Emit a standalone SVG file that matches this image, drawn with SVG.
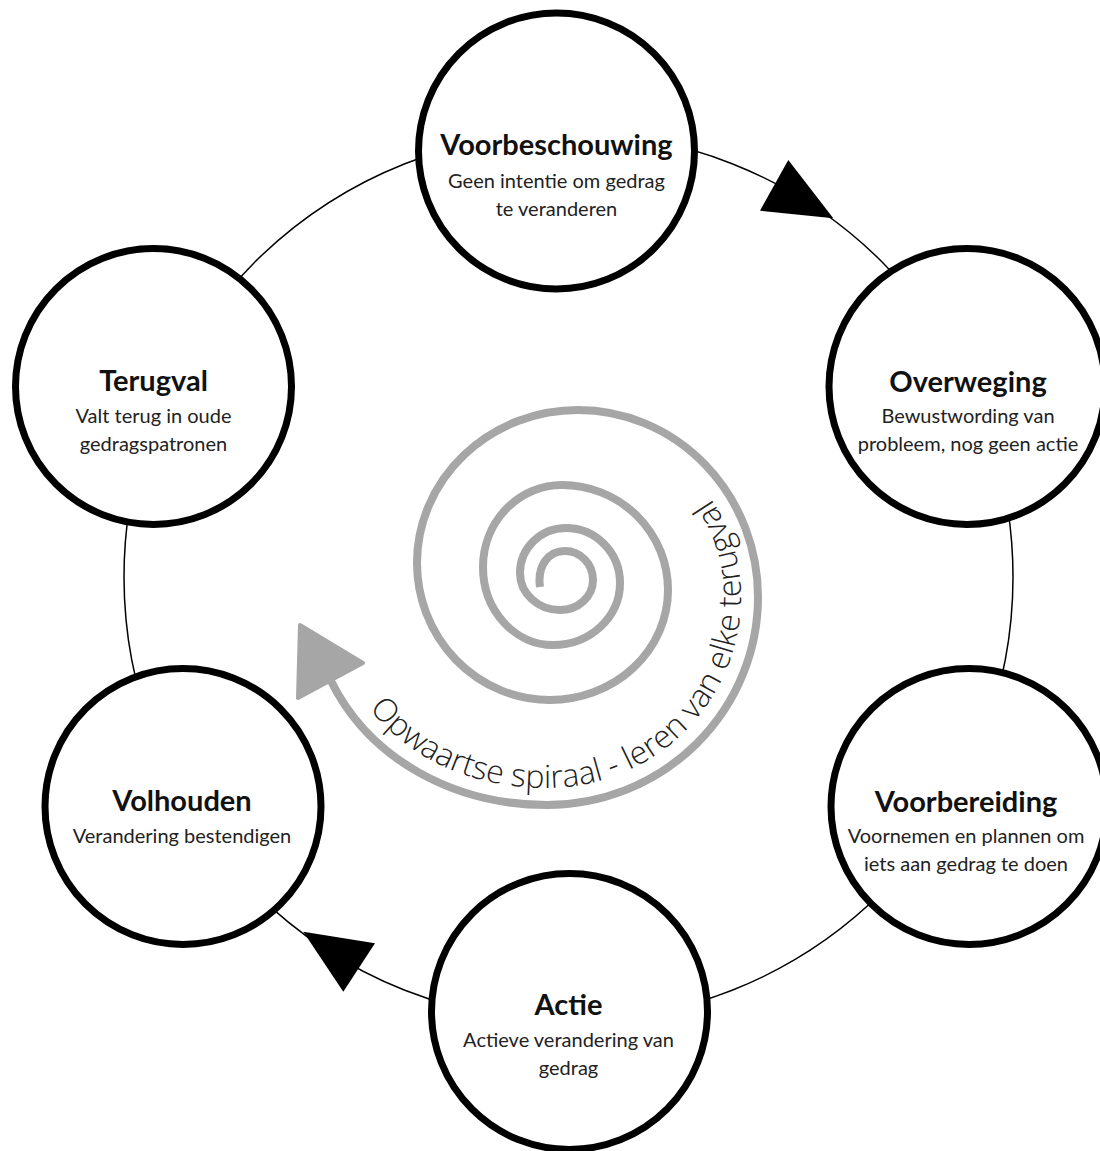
<svg xmlns="http://www.w3.org/2000/svg" xmlns:xlink="http://www.w3.org/1999/xlink" width="1100" height="1151" viewBox="0 0 1100 1151">
<style>
.ring{fill:none;stroke:#000;stroke-width:1.5}
.node{fill:#fff;stroke:#000;stroke-width:7}
.title{font-family:Lato,"Noto Sans",sans-serif;font-weight:bold;font-size:29px;fill:#111;text-anchor:middle}
.sub{font-family:Lato,"Noto Sans",sans-serif;font-size:20px;fill:#222;text-anchor:middle}
.arrow{fill:#000;stroke:none}
.spiral{fill:none;stroke:#a6a6a6;stroke-width:8}
.spiralhead{fill:#a6a6a6;stroke:#a6a6a6;stroke-width:4;stroke-linejoin:round}
.curved{font-family:"Open Sans","Noto Sans",sans-serif;font-weight:300;font-size:32px;fill:#222}
</style>
<defs>
<path id="textArc" d="M347,673 C384,748 460,788 547,788 A194 191 0 0 0 741,597 A163 170 0 0 0 578,427"/>
</defs>
<rect width="1100" height="1151" fill="#fff"/>
<g id="connectors">
<circle class="ring" cx="568.5" cy="577" r="444.5"/>
<polygon class="arrow" points="788.3,160 760,210.7 833.3,218.3"/>
<polygon class="arrow" points="303.3,931.7 375,943.3 343.3,991.7"/>
</g>
<g id="spiral">
<path class="spiral" d="M540,587 C537,566 548,551 565,551 A28 29 0 0 1 593,580 A33 30 0 0 1 560,610 A40 37 0 0 1 520,573 A46 45 0 0 1 566,528 A54 55 0 0 1 620,583 A67 62 0 0 1 553,645 A70 78 0 0 1 483,567 A79 82 0 0 1 562,485 A106 105 0 0 1 668,590 A118 110 0 0 1 550,700 A133 137 0 0 1 417,563 A161 153 0 0 1 578,410 A180 187 0 0 1 758,597 A211 208 0 0 1 547,805 C455,805 370,760 331,681"/>
<polygon class="spiralhead" points="300,625 363,663 298,698"/>
<text class="curved"><textPath xlink:href="#textArc" href="#textArc" startOffset="42">Opwaartse spiraal - leren van elke terugval</textPath></text>
</g>
<g id="voorbeschouwing">
<circle class="node" cx="556.5" cy="151" r="138"/>
<text class="title" x="556.5" y="155">Voorbeschouwing</text>
<text class="sub" x="556.5" y="188">Geen intentie om gedrag</text>
<text class="sub" x="556.5" y="216">te veranderen</text>
</g>
<g id="overweging">
<circle class="node" cx="967" cy="386.5" r="138"/>
<text class="title" x="968" y="392">Overweging</text>
<text class="sub" x="968" y="423">Bewustwording van</text>
<text class="sub" x="968" y="451">probleem, nog geen actie</text>
</g>
<g id="voorbereiding">
<circle class="node" cx="969" cy="806.5" r="138"/>
<text class="title" x="966" y="812">Voorbereiding</text>
<text class="sub" x="966" y="843">Voornemen en plannen om</text>
<text class="sub" x="966" y="871">iets aan gedrag te doen</text>
</g>
<g id="actie">
<circle class="node" cx="569.5" cy="1011.5" r="138"/>
<text class="title" x="568.5" y="1015">Actie</text>
<text class="sub" x="568.5" y="1047">Actieve verandering van</text>
<text class="sub" x="568.5" y="1075">gedrag</text>
</g>
<g id="volhouden">
<circle class="node" cx="183" cy="806.5" r="138"/>
<text class="title" x="182" y="811">Volhouden</text>
<text class="sub" x="182" y="843">Verandering bestendigen</text>
</g>
<g id="terugval">
<circle class="node" cx="153.5" cy="386.5" r="138"/>
<text class="title" x="153.5" y="391">Terugval</text>
<text class="sub" x="153.5" y="423">Valt terug in oude</text>
<text class="sub" x="153.5" y="451">gedragspatronen</text>
</g>
</svg>
